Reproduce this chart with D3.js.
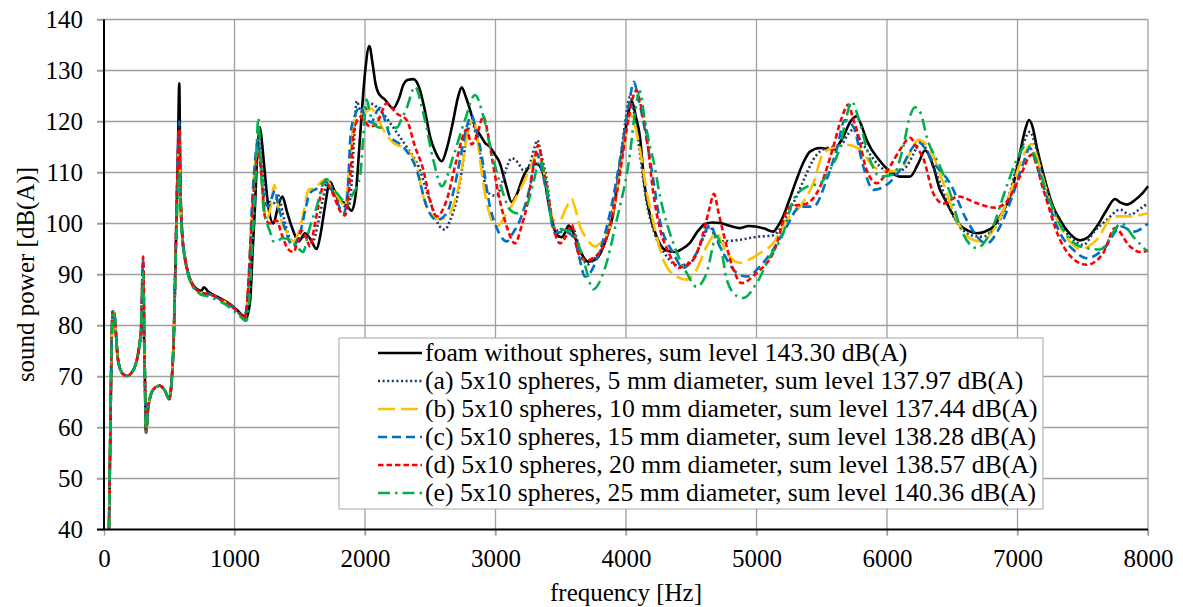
<!DOCTYPE html>
<html lang="en">
<head>
<meta charset="UTF-8" />
<title>Sound power</title>
<script src="https://cdn.jsdelivr.net/npm/d3@7"></script>
<style>
  body { margin: 0; background: #fff; }
  svg { display: block; font-family: "Liberation Serif", "Times New Roman", serif; }
</style>
</head>
<body>
<div id="container"></div>
<script>
// tick values and axis titles
const xTicks = [0, 1000, 2000, 3000, 4000, 5000, 6000, 7000, 8000]
const yTicks = [40, 50, 60, 70, 80, 90, 100, 110, 120, 130, 140]
const xTitle = 'frequency [Hz]'
const yTitle = 'sound power [dB(A)]'

const labels = [
  'foam without spheres, sum level 143.30 dB(A)',
  '(a) 5x10 spheres, 5 mm diameter, sum level 137.97 dB(A)',
  '(b) 5x10 spheres, 10 mm diameter, sum level 137.44 dB(A)',
  '(c) 5x10 spheres, 15 mm diameter, sum level 138.28 dB(A)',
  '(d) 5x10 spheres, 20 mm diameter, sum level 138.57 dB(A)',
  '(e) 5x10 spheres, 25 mm diameter, sum level 140.36 dB(A)'
]

// [frequency Hz, dB(A)]
const foam = [[38,40],[48,58],[58,76],[67,82.8],[80,82.2],[90,79],[104,74],[120,71.8],[145,70.5],[174,70.1],[210,70.7],[240,72.2],[265,75],[283,78.5],[300,81],[312,72],[322,59],[337,63.5],[360,66.5],[395,67.9],[429,68.2],[465,67.3],[500,65.6],[518,69],[535,78],[550,95],[565,112],[577,127.5],[585,108],[600,98],[620,93.5],[640,90.8],[670,88.5],[710,87.2],[745,86.8],[766,87.5],[800,86.6],[840,86],[900,85.2],[960,84.3],[1017,83.1],[1060,82],[1088,81.4],[1119,84.6],[1140,95],[1157,103.3],[1175,114],[1195,118.9],[1210,116],[1228,111.2],[1259,103.3],[1298,100],[1335,103.5],[1367,105.3],[1400,102.5],[1438,99.4],[1494,96.5],[1540,98.1],[1580,97],[1630,95],[1660,98],[1693,103.3],[1732,108.2],[1765,106.5],[1796,104.6],[1847,104],[1898,102.5],[1930,106],[1962,117],[2000,129.5],[2033,134.8],[2060,131],[2080,127.5],[2102,125.6],[2153,124.3],[2217,122.6],[2260,124.5],[2294,127.2],[2330,128.2],[2370,128.3],[2421,126.2],[2460,122],[2498,117.1],[2540,114],[2588,112.2],[2630,115],[2677,120.3],[2710,124.5],[2741,126.7],[2770,125],[2805,122.3],[2850,118.5],[2881,117.4],[2920,115.8],[2958,115],[2996,113.5],[3034,111.8],[3060,109.5],[3086,107],[3124,104.2],[3160,105.5],[3213,109.2],[3264,111.2],[3316,111.7],[3366,109.7],[3418,102.4],[3469,97.8],[3507,97.3],[3535,98.3],[3560,99.6],[3590,98.5],[3635,95.5],[3680,93.2],[3711,92.5],[3775,93.1],[3852,97.3],[3903,102],[3940,109],[3980,115.5],[4010,120.5],[4045,124],[4075,121],[4107,117],[4140,108],[4184,101.7],[4235,97.4],[4300,94.8],[4375,94.4],[4430,95],[4490,96.2],[4550,98.5],[4605,99.9],[4660,100.2],[4720,100.1],[4800,99.5],[4874,99.1],[4940,99.5],[4989,99.4],[5060,99],[5128,98.4],[5165,99.5],[5205,101.4],[5250,104.5],[5307,108.6],[5360,112],[5410,114.1],[5487,114.8],[5589,114.5],[5630,115.5],[5666,117.1],[5720,120],[5768,121],[5800,119.5],[5844,116.4],[5880,114.6],[5921,113.1],[6010,110.5],[6100,109.2],[6176,109.2],[6240,111.8],[6291,114.3],[6355,111.2],[6406,106.6],[6432,105.3],[6500,102],[6559,99.7],[6620,98.6],[6687,98.1],[6750,98.4],[6815,99.4],[6880,102],[6943,105.3],[6985,109.5],[7019,113.8],[7060,118.5],[7088,120.3],[7115,119],[7147,115.1],[7185,111],[7224,107.3],[7270,103.5],[7326,100.7],[7400,98],[7479,96.7],[7540,97.3],[7607,99.4],[7680,102.5],[7747,104.8],[7790,104.1],[7837,103.7],[7900,104.6],[7960,106],[8000,107.3]]

const spheres5 = [[38,40],[48,58],[58,76],[67,82.8],[80,82.2],[90,79],[104,74],[120,71.8],[145,70.5],[174,70.1],[210,70.7],[240,72.2],[265,75],[283,79],[300,92],[312,72],[322,59],[337,63.5],[360,66.5],[395,67.9],[429,68.2],[465,67.3],[500,65.6],[518,69],[535,78],[550,95],[565,112],[577,119],[585,107],[600,97.5],[620,93.2],[640,90.6],[670,88.3],[710,87],[745,86.4],[800,86.2],[840,85.8],[900,85],[960,84.1],[1017,82.9],[1050,82],[1075,81.2],[1100,84],[1120,92],[1145,105],[1165,113],[1182,116.4],[1200,114],[1225,108],[1259,104.5],[1300,104],[1336,105.5],[1370,102],[1410,98],[1451,96.5],[1500,97],[1550,97.5],[1600,96.5],[1640,100],[1680,105],[1715,108.5],[1760,106.5],[1800,105],[1840,103.5],[1870,103],[1895,107],[1915,116],[1936,124],[1960,122.5],[1999,122],[2030,123.5],[2064,123.4],[2100,122.5],[2140,121.5],[2217,118.8],[2319,115],[2421,110.5],[2470,106.5],[2523,102.7],[2570,99.5],[2613,98.8],[2650,100.5],[2702,104.6],[2740,110],[2779,117],[2817,120],[2850,117.5],[2881,113.8],[2932,106.6],[2980,105.5],[3009,105.5],[3050,108],[3086,111],[3124,112.8],[3170,112],[3213,110.5],[3260,111.5],[3300,115],[3320,116.3],[3350,113.5],[3392,108.6],[3443,99.4],[3480,98.6],[3519,98.8],[3560,98.8],[3596,98.8],[3635,96],[3673,92.9],[3710,92],[3750,92.9],[3800,94.5],[3852,97.4],[3900,103],[3954,111.8],[3995,120],[4031,124.9],[4060,122],[4100,115],[4159,104],[4220,98],[4300,94],[4360,92.2],[4414,91.6],[4470,92.2],[4516,92.9],[4580,96.5],[4644,99.4],[4680,97.5],[4720,96.5],[4800,96.6],[4874,96.8],[4940,97.1],[5001,97.4],[5060,97.5],[5128,97.7],[5205,100],[5250,102.3],[5307,105.3],[5370,109],[5435,112.5],[5538,114.8],[5640,115.1],[5700,117.5],[5742,118.4],[5790,116.6],[5844,114.5],[5946,111.2],[6048,109.8],[6100,110.3],[6150,111.2],[6200,113.5],[6240,115.5],[6266,116],[6300,114.6],[6355,111.2],[6406,108],[6483,102.7],[6550,99.8],[6610,98.1],[6680,97.5],[6738,97.4],[6800,98.5],[6866,100.7],[6930,105],[6994,111.2],[7050,116],[7096,118],[7140,115],[7198,109.2],[7260,104],[7326,100],[7420,97],[7504,95.8],[7590,98.5],[7683,100.7],[7785,102.7],[7862,101.7],[7930,102.7],[8000,104]]

const spheres10 = [[38,40],[48,58],[58,76],[67,82.8],[80,82.2],[90,79],[104,74],[120,71.8],[145,70.5],[174,70.1],[210,70.7],[240,72.2],[265,75],[283,78.8],[300,88],[312,72],[322,59],[337,63.5],[360,66.5],[395,67.9],[429,68.2],[465,67.3],[500,65.6],[518,69],[535,78],[550,95],[565,110],[577,116],[585,106],[600,97.5],[620,93.2],[640,90.6],[670,88.3],[710,87],[745,86.4],[800,86.2],[840,85.8],[900,85],[960,84.1],[1017,82.9],[1050,82],[1075,81.2],[1095,84],[1115,93],[1140,106],[1160,112.5],[1180,115],[1200,112],[1225,104],[1250,101],[1275,103],[1305,107.6],[1330,104],[1360,100.5],[1398,98.4],[1450,96.5],[1500,99],[1540,103.5],[1566,106.6],[1617,107],[1693,108.6],[1770,106],[1821,104],[1847,103.3],[1872,109],[1895,115],[1911,119.6],[1950,121],[2013,122],[2050,122.5],[2090,121],[2140,118.4],[2217,115.8],[2319,114.5],[2396,111.2],[2447,105.3],[2523,101.4],[2575,100.8],[2651,102],[2700,105.5],[2728,108.6],[2792,118.4],[2830,120.3],[2860,117],[2881,112.5],[2945,102.7],[3009,99.4],[3086,102],[3188,106.6],[3260,110.5],[3316,113.5],[3379,109.2],[3443,100.7],[3494,100.7],[3540,103],[3584,104.8],[3610,103],[3648,99.4],[3700,97],[3762,95.5],[3801,96.1],[3877,99.4],[3954,110.5],[4000,118],[4031,121.6],[4060,120],[4107,114.5],[4160,106],[4209,100.3],[4286,92.9],[4388,89.6],[4465,89],[4541,91],[4618,95.5],[4695,98.1],[4730,96.5],[4772,94.2],[4874,92.3],[4950,93],[5027,94.2],[5128,96.1],[5231,100.7],[5333,103.3],[5435,107.9],[5512,113.8],[5589,114.8],[5691,115.4],[5793,114.5],[5895,111.2],[5998,110.2],[6100,110.5],[6176,113.8],[6240,116.4],[6300,115.5],[6350,113.5],[6432,107.9],[6534,100.7],[6636,97.1],[6713,96.5],[6815,98.7],[6943,105.9],[7040,113],[7109,115.6],[7150,113],[7198,108.6],[7260,103.5],[7326,99.4],[7400,96.5],[7479,95],[7607,96.8],[7734,101.4],[7837,101.4],[7900,101.5],[8000,102]]

const spheres15 = [[38,40],[48,58],[58,76],[67,82.8],[80,82.2],[90,79],[104,74],[120,71.8],[145,70.5],[174,70.1],[210,70.7],[240,72.2],[265,75],[283,79],[300,93],[312,72],[322,59],[337,63.5],[360,66.5],[395,67.9],[429,68.2],[465,67.3],[500,65.6],[518,69],[535,78],[550,95],[565,112],[577,120],[585,107],[600,97.5],[620,93.2],[640,90.6],[670,88.3],[710,87],[745,86.4],[800,86.2],[840,85.8],[900,85],[960,84.1],[1017,82.9],[1050,82],[1070,81.2],[1090,83],[1110,90],[1135,104],[1160,113],[1178,116.4],[1200,112],[1230,104.5],[1259,103.3],[1285,105],[1310,106.5],[1340,103],[1383,99.4],[1420,96.5],[1451,95.5],[1485,97],[1515,99.4],[1545,103],[1579,106],[1642,107],[1693,108.2],[1770,105.3],[1834,102],[1860,104],[1872,108.6],[1891,118],[1920,121],[1962,122.9],[2000,121],[2050,119.8],[2080,121.5],[2115,122.7],[2150,120.5],[2192,117.2],[2294,115],[2396,110.5],[2473,103.3],[2549,100.7],[2626,102],[2680,106.5],[2728,112.5],[2780,119],[2817,121.2],[2850,118.5],[2881,115.1],[2958,103.3],[3020,98.5],[3086,96.5],[3130,98],[3188,100.7],[3264,107.2],[3316,113.8],[3350,111],[3392,106],[3456,98.1],[3519,98.4],[3596,97.4],[3640,93.5],[3686,89.6],[3730,90.5],[3775,92.9],[3877,102],[3954,112.5],[4020,123],[4061,127.8],[4090,125],[4120,121.6],[4209,108.6],[4260,100.5],[4363,94.2],[4439,91.3],[4541,94.2],[4644,99.7],[4700,96.5],[4746,94.2],[4848,90.3],[4925,89.6],[5027,91.6],[5128,94.9],[5231,99.4],[5333,103.3],[5435,103.3],[5538,108.6],[5614,114.5],[5678,120.3],[5742,119],[5818,111.2],[5895,106.6],[5998,107.6],[6100,110.5],[6202,115.1],[6240,116],[6290,114.8],[6355,112],[6483,107.9],[6610,100.7],[6764,96.1],[6866,99.4],[6968,105.9],[7040,111.5],[7096,114.8],[7140,112],[7198,107.3],[7326,98.1],[7430,94.8],[7530,93.2],[7657,94.9],[7798,99.4],[7888,98.4],[8000,100]]

const spheres20 = [[38,40],[48,58],[58,76],[67,82.8],[80,82.2],[90,79],[104,74],[120,71.8],[145,70.5],[174,70.1],[210,70.7],[240,72.2],[265,75],[283,79],[300,93.5],[312,72],[322,59],[337,63.5],[360,66.5],[395,67.9],[429,68.2],[465,67.3],[500,65.6],[518,69],[535,78],[550,95],[565,112],[577,118.5],[585,107],[600,97.5],[620,93.2],[640,90.6],[670,88.3],[710,87],[745,86.4],[800,86.2],[840,85.8],[900,85],[960,84.1],[1017,82.9],[1050,82],[1070,81.2],[1090,83],[1110,89],[1135,101],[1160,110],[1182,114.1],[1200,111],[1234,101.3],[1270,100],[1323,100.6],[1360,98],[1410,95],[1451,94.4],[1485,96.5],[1515,98.6],[1545,97.5],[1579,95.5],[1610,99],[1642,103.3],[1693,108.2],[1745,106.3],[1821,102],[1847,101.6],[1875,106],[1898,113],[1911,117.6],[1962,120.9],[2000,120],[2038,119],[2090,119.6],[2130,122],[2166,123.6],[2200,122.8],[2243,121.6],[2319,120.3],[2383,115.1],[2447,110.5],[2498,104.6],[2549,101.4],[2626,104.6],[2702,112.5],[2779,118.4],[2817,115.5],[2860,117.5],[2907,121],[2935,118.5],[2958,115.1],[3021,106],[3086,99.4],[3149,96.1],[3200,99.5],[3239,103.3],[3290,111],[3328,115.4],[3360,111.5],[3392,107.2],[3456,98.1],[3494,96.1],[3540,97.5],[3584,99.7],[3635,94.2],[3699,92.7],[3724,92.9],[3826,95.5],[3929,105.9],[4005,118.4],[4050,124.5],[4082,126.1],[4110,123.5],[4159,117],[4209,106],[4260,99],[4324,94.5],[4401,91.3],[4470,92],[4516,92.9],[4592,98.1],[4640,103],[4674,105.8],[4710,102],[4746,98.1],[4823,91],[4886,88.3],[5001,90.3],[5128,94.2],[5256,103.3],[5384,103.9],[5487,107.2],[5589,115.1],[5650,120.5],[5704,123.3],[5740,120.5],[5768,118.4],[5844,110.5],[5921,107.9],[6023,111.2],[6100,114.5],[6176,116.8],[6230,114.8],[6278,112.8],[6355,105.9],[6432,103.9],[6547,105.3],[6687,104],[6828,103.1],[6917,104.3],[7019,109.2],[7109,113.5],[7198,106.6],[7326,96.8],[7430,93],[7530,91.9],[7657,94.2],[7747,99.1],[7862,95.5],[7939,94.4],[8000,94.7]]

const spheres25 = [[38,40],[48,58],[58,76],[67,82.8],[80,82.2],[90,79],[104,74],[120,71.8],[145,70.5],[174,70.1],[210,70.7],[240,72.2],[265,75],[283,79],[300,90.5],[312,72],[322,59],[337,63.5],[360,66.5],[395,67.9],[429,68.2],[465,67.3],[500,65.6],[518,69],[535,78],[550,93],[565,105],[577,110.5],[585,104],[600,97],[620,93],[640,90.4],[670,88],[710,86.8],[745,86],[800,85.7],[840,85.3],[900,84.6],[960,83.6],[1017,82.4],[1050,81.6],[1090,80.9],[1110,84],[1135,95],[1155,105],[1170,115],[1182,120.7],[1200,113],[1221,103.3],[1250,100],[1272,98.4],[1298,96.5],[1330,96.5],[1362,97.1],[1425,96.8],[1477,95.5],[1527,94.4],[1555,97],[1579,99.4],[1630,103.3],[1680,107.9],[1706,108.7],[1745,107],[1783,106],[1860,104],[1911,106],[1962,109.2],[1987,117],[2013,124.3],[2038,121.6],[2070,119.5],[2115,118.8],[2243,118.8],[2280,120.5],[2319,122.6],[2383,126.8],[2447,121.6],[2523,112.5],[2588,107.3],[2677,113.2],[2766,120.3],[2843,125.2],[2907,121],[2971,113.8],[3034,108],[3111,102.7],[3162,102],[3239,103.5],[3290,108],[3341,112.5],[3392,107.2],[3443,99.4],[3519,98.8],[3596,98.1],[3673,92.9],[3750,87.1],[3826,90.3],[3929,100.7],[4031,113.8],[4070,122],[4107,125.9],[4140,121],[4184,115],[4209,112.5],[4261,105.3],[4363,96.1],[4465,90.3],[4541,87.6],[4618,90.3],[4695,97.6],[4730,95],[4772,89],[4848,85.8],[4899,85.4],[5001,88.3],[5103,93.5],[5205,98.1],[5282,104.6],[5384,107.2],[5487,107.9],[5563,110.5],[5640,115.1],[5690,121],[5729,123.9],[5793,119.6],[5870,112.5],[5946,109.2],[6048,109.6],[6125,115.1],[6170,120.5],[6215,122.8],[6260,121.5],[6304,117],[6406,111.2],[6483,106],[6559,99.4],[6687,95.2],[6789,98.1],[6917,107.3],[6994,112.5],[7070,115.4],[7121,113.8],[7224,106],[7351,98.7],[7479,95.5],[7632,94.9],[7798,100],[7888,97.4],[7990,94.6]]

const seriesData = [foam, spheres5, spheres10, spheres15, spheres20, spheres25]
const colors = ['#000000', '#1f3864', '#ffc000', '#0070c0', '#ff0000', '#00b050']
const dashes = [null, '2 2.6', '17 6', '9 5', '5.5 3', '12 5 2.5 5']

// chart box
const width = 1183
const height = 607
const marginLeft = 104
const marginRight = 35
const marginTop = 19.5
const marginBottom = 77.5

const svg = d3.create('svg')
  .attr('width', width)
  .attr('height', height)
  .attr('viewBox', [0, 0, width, height])

const x = d3.scaleLinear().domain([0, 8000]).range([marginLeft, width - marginRight])
const y = d3.scaleLinear().domain([40, 140]).range([height - marginBottom, marginTop])

const gridColor = '#a0a0a0'

// gridlines
svg.append('g')
  .attr('stroke', gridColor)
  .attr('stroke-width', 1.3)
  .selectAll('line')
  .data(yTicks.filter(d => d > 40))
  .join('line')
  .attr('x1', marginLeft - 7)
  .attr('x2', x(8000))
  .attr('y1', d => y(d))
  .attr('y2', d => y(d))

svg.append('g')
  .attr('stroke', gridColor)
  .attr('stroke-width', 1.3)
  .selectAll('line')
  .data(xTicks.filter(d => d > 0))
  .join('line')
  .attr('x1', d => x(d))
  .attr('x2', d => x(d))
  .attr('y1', marginTop)
  .attr('y2', y(40) + 6)

// axes
const xAxis = svg.append('g')
  .attr('transform', `translate(0,${y(40)})`)
  .call(d3.axisBottom(x).tickValues(xTicks).tickSize(6).tickPadding(14).tickFormat(d3.format('d')))
const yAxis = svg.append('g')
  .attr('transform', `translate(${marginLeft},0)`)
  .call(d3.axisLeft(y).tickValues(yTicks).tickSize(7).tickPadding(14))

for (const ax of [xAxis, yAxis]) {
  ax.select('.domain').remove()
  ax.selectAll('.tick line').attr('stroke', gridColor).attr('stroke-width', 1.3)
  ax.selectAll('.tick text')
    .attr('fill', '#000')
    .style('font-family', '"Liberation Serif", "Times New Roman", serif')
    .style('font-size', '25px')
}

// lines
const line = d3.line()
  .x(d => x(d[0]))
  .y(d => y(d[1]))
  .curve(d3.curveMonotoneX)

const clip = svg.append('clipPath').attr('id', 'plot-clip')
clip.append('rect')
  .attr('x', marginLeft)
  .attr('y', marginTop - 5)
  .attr('width', x(8000) - marginLeft + 2)
  .attr('height', y(40) - marginTop + 5)

svg.append('g')
  .attr('clip-path', 'url(#plot-clip)')
  .selectAll('path')
  .data(seriesData)
  .join('path')
  .attr('fill', 'none')
  .attr('stroke', (d, i) => colors[i])
  .attr('stroke-width', 2.6)
  .attr('stroke-dasharray', (d, i) => dashes[i])
  .attr('stroke-linejoin', 'round')
  .attr('d', line)

// axis lines on top
svg.append('line')
  .attr('x1', marginLeft).attr('x2', marginLeft)
  .attr('y1', marginTop).attr('y2', y(40))
  .attr('stroke', '#000').attr('stroke-width', 2)
svg.append('line')
  .attr('x1', marginLeft - 7).attr('x2', x(8000))
  .attr('y1', y(40)).attr('y2', y(40))
  .attr('stroke', '#000').attr('stroke-width', 2)

// axis titles
svg.append('text')
  .attr('x', (marginLeft + x(8000)) / 2)
  .attr('y', 601)
  .attr('text-anchor', 'middle')
  .style('font-size', '25px')
  .text(xTitle)

svg.append('text')
  .attr('transform', `translate(34,${(marginTop + y(40)) / 2}) rotate(-90)`)
  .attr('text-anchor', 'middle')
  .style('font-size', '25px')
  .text(yTitle)

// legend
const legend = svg.append('g').attr('transform', 'translate(339,338)')
legend.append('rect')
  .attr('width', 704)
  .attr('height', 171)
  .attr('fill', '#fff')
  .attr('stroke', '#a6a6a6')
  .attr('stroke-width', 1)

const rows = legend.selectAll('g.row')
  .data(labels)
  .join('g')
  .attr('class', 'row')
  .attr('transform', (d, i) => `translate(0,${15 + i * 28})`)

rows.append('line')
  .attr('x1', 39).attr('x2', 83)
  .attr('stroke', (d, i) => colors[i])
  .attr('stroke-width', 2.6)
  .attr('stroke-dasharray', (d, i) => dashes[i])

rows.append('text')
  .attr('x', 86)
  .attr('dy', '0.33em')
  .style('font-size', '25.7px')
  .text(d => d)

container.append(svg.node())
</script>
</body>
</html>
